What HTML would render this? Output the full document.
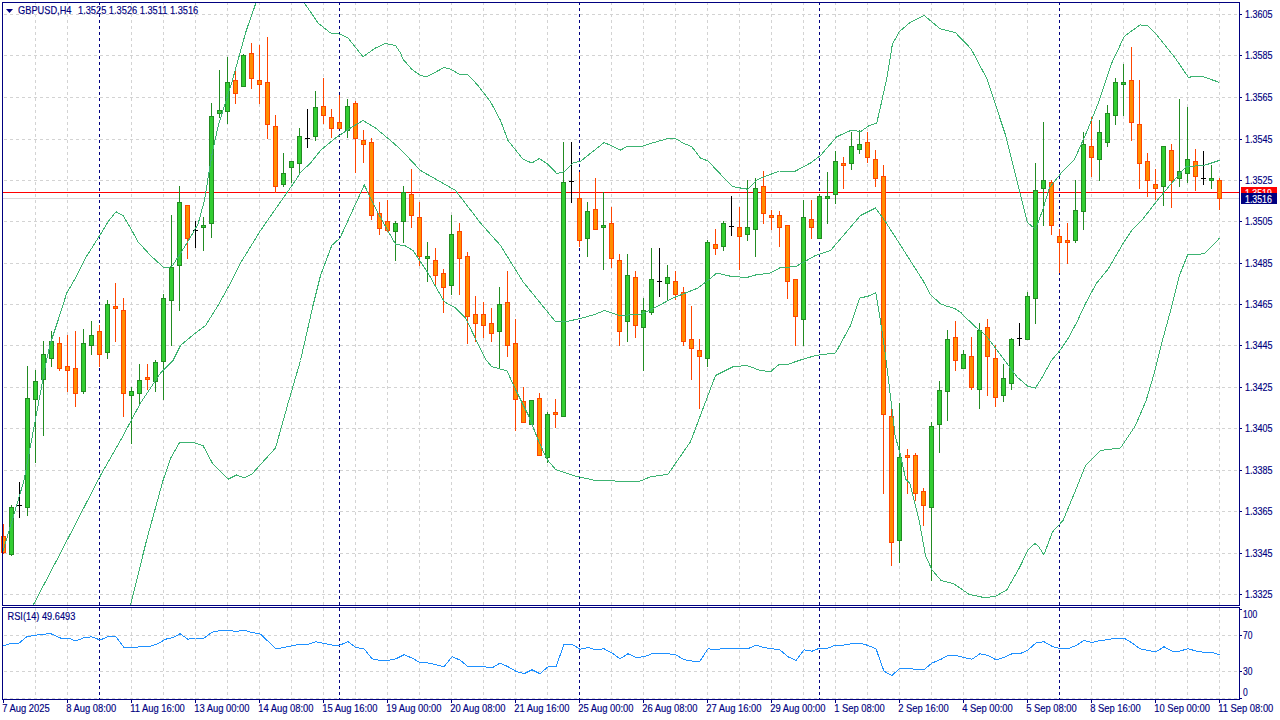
<!DOCTYPE html><html><head><meta charset="utf-8"><style>html,body{margin:0;padding:0;background:#fff;width:1280px;height:720px;overflow:hidden}svg{display:block}text{font-family:"Liberation Sans", sans-serif;fill:#000080}</style></head><body>
<svg width="1280" height="720" viewBox="0 0 1280 720">
<defs><clipPath id="cm"><rect x="3" y="3" width="1236" height="602"/></clipPath><clipPath id="cr"><rect x="3" y="608" width="1236" height="91"/></clipPath></defs>
<path d="M4 14.5H1239M4 55.5H1239M4 97.5H1239M4 139.5H1239M4 180.5H1239M4 221.5H1239M4 263.5H1239M4 304.5H1239M4 345.5H1239M4 387.5H1239M4 428.5H1239M4 470.5H1239M4 511.5H1239M4 553.5H1239M4 594.5H1239M4 635.5H1239M4 671.5H1239M4 698.5H1239" stroke="#d3d3d3" stroke-width="1" stroke-dasharray="3 3" fill="none" shape-rendering="crispEdges"/>
<path d="M35.5 2V605M35.5 608V699M67.5 2V605M67.5 608V699M131.5 2V605M131.5 608V699M163.5 2V605M163.5 608V699M195.5 2V605M195.5 608V699M227.5 2V605M227.5 608V699M259.5 2V605M259.5 608V699M291.5 2V605M291.5 608V699M323.5 2V605M323.5 608V699M355.5 2V605M355.5 608V699M387.5 2V605M387.5 608V699M419.5 2V605M419.5 608V699M451.5 2V605M451.5 608V699M483.5 2V605M483.5 608V699M515.5 2V605M515.5 608V699M547.5 2V605M547.5 608V699M611.5 2V605M611.5 608V699M643.5 2V605M643.5 608V699M675.5 2V605M675.5 608V699M707.5 2V605M707.5 608V699M739.5 2V605M739.5 608V699M771.5 2V605M771.5 608V699M803.5 2V605M803.5 608V699M835.5 2V605M835.5 608V699M867.5 2V605M867.5 608V699M899.5 2V605M899.5 608V699M931.5 2V605M931.5 608V699M963.5 2V605M963.5 608V699M995.5 2V605M995.5 608V699M1027.5 2V605M1027.5 608V699M1091.5 2V605M1091.5 608V699M1123.5 2V605M1123.5 608V699M1155.5 2V605M1155.5 608V699M1187.5 2V605M1187.5 608V699M1219.5 2V605M1219.5 608V699" stroke="#d3d3d3" stroke-width="1" stroke-dasharray="3 3" fill="none" shape-rendering="crispEdges"/>
<path d="M99.5 2V605M99.5 608V699M339.5 2V605M339.5 608V699M579.5 2V605M579.5 608V699M819.5 2V605M819.5 608V699M1059.5 2V605M1059.5 608V699" stroke="#000080" stroke-width="1" stroke-dasharray="3 3" fill="none" shape-rendering="crispEdges"/>
<rect x="3" y="192" width="1236" height="1" fill="#ff0000" shape-rendering="crispEdges"/>
<rect x="3" y="198" width="1236" height="1" fill="#d8d8d8" shape-rendering="crispEdges"/>
<g shape-rendering="crispEdges">
<rect x="3" y="524" width="1" height="30" fill="#ff4500"/>
<rect x="1" y="536" width="5" height="17" fill="#ff4500"/>
<rect x="2" y="537" width="3" height="15" fill="#ff8c00"/>
<rect x="11" y="505" width="1" height="51" fill="#228b22"/>
<rect x="9" y="507" width="5" height="48" fill="#228b22"/>
<rect x="10" y="508" width="3" height="46" fill="#32cd32"/>
<rect x="19" y="482" width="1" height="36" fill="#000"/>
<rect x="17" y="505" width="5" height="1" fill="#000"/>
<rect x="27" y="366" width="1" height="150" fill="#228b22"/>
<rect x="25" y="398" width="5" height="110" fill="#228b22"/>
<rect x="26" y="399" width="3" height="108" fill="#32cd32"/>
<rect x="35" y="370" width="1" height="93" fill="#228b22"/>
<rect x="33" y="381" width="5" height="19" fill="#228b22"/>
<rect x="34" y="382" width="3" height="17" fill="#32cd32"/>
<rect x="43" y="341" width="1" height="95" fill="#228b22"/>
<rect x="41" y="354" width="5" height="26" fill="#228b22"/>
<rect x="42" y="355" width="3" height="24" fill="#32cd32"/>
<rect x="51" y="331" width="1" height="36" fill="#228b22"/>
<rect x="49" y="341" width="5" height="18" fill="#228b22"/>
<rect x="50" y="342" width="3" height="16" fill="#32cd32"/>
<rect x="59" y="337" width="1" height="34" fill="#ff4500"/>
<rect x="57" y="343" width="5" height="26" fill="#ff4500"/>
<rect x="58" y="344" width="3" height="24" fill="#ff8c00"/>
<rect x="67" y="335" width="1" height="57" fill="#ff4500"/>
<rect x="65" y="366" width="5" height="5" fill="#ff4500"/>
<rect x="66" y="367" width="3" height="3" fill="#ff8c00"/>
<rect x="75" y="331" width="1" height="76" fill="#ff4500"/>
<rect x="73" y="368" width="5" height="26" fill="#ff4500"/>
<rect x="74" y="369" width="3" height="24" fill="#ff8c00"/>
<rect x="83" y="329" width="1" height="65" fill="#228b22"/>
<rect x="81" y="343" width="5" height="49" fill="#228b22"/>
<rect x="82" y="344" width="3" height="47" fill="#32cd32"/>
<rect x="91" y="321" width="1" height="34" fill="#228b22"/>
<rect x="89" y="335" width="5" height="11" fill="#228b22"/>
<rect x="90" y="336" width="3" height="9" fill="#32cd32"/>
<rect x="99" y="325" width="1" height="42" fill="#ff4500"/>
<rect x="97" y="331" width="5" height="24" fill="#ff4500"/>
<rect x="98" y="332" width="3" height="22" fill="#ff8c00"/>
<rect x="107" y="300" width="1" height="59" fill="#228b22"/>
<rect x="105" y="304" width="5" height="49" fill="#228b22"/>
<rect x="106" y="305" width="3" height="47" fill="#32cd32"/>
<rect x="115" y="283" width="1" height="59" fill="#ff4500"/>
<rect x="113" y="306" width="5" height="3" fill="#ff4500"/>
<rect x="114" y="307" width="3" height="1" fill="#ff8c00"/>
<rect x="123" y="298" width="1" height="119" fill="#ff4500"/>
<rect x="121" y="310" width="5" height="84" fill="#ff4500"/>
<rect x="122" y="311" width="3" height="82" fill="#ff8c00"/>
<rect x="131" y="387" width="1" height="57" fill="#228b22"/>
<rect x="129" y="391" width="5" height="5" fill="#228b22"/>
<rect x="130" y="392" width="3" height="3" fill="#32cd32"/>
<rect x="139" y="364" width="1" height="42" fill="#228b22"/>
<rect x="137" y="380" width="5" height="14" fill="#228b22"/>
<rect x="138" y="381" width="3" height="12" fill="#32cd32"/>
<rect x="147" y="364" width="1" height="26" fill="#ff4500"/>
<rect x="145" y="377" width="5" height="3" fill="#ff4500"/>
<rect x="146" y="378" width="3" height="1" fill="#ff8c00"/>
<rect x="155" y="360" width="1" height="32" fill="#228b22"/>
<rect x="153" y="362" width="5" height="20" fill="#228b22"/>
<rect x="154" y="363" width="3" height="18" fill="#32cd32"/>
<rect x="163" y="294" width="1" height="106" fill="#228b22"/>
<rect x="161" y="298" width="5" height="64" fill="#228b22"/>
<rect x="162" y="299" width="3" height="62" fill="#32cd32"/>
<rect x="171" y="215" width="1" height="131" fill="#228b22"/>
<rect x="169" y="267" width="5" height="34" fill="#228b22"/>
<rect x="170" y="268" width="3" height="32" fill="#32cd32"/>
<rect x="179" y="186" width="1" height="125" fill="#228b22"/>
<rect x="177" y="202" width="5" height="64" fill="#228b22"/>
<rect x="178" y="203" width="3" height="62" fill="#32cd32"/>
<rect x="187" y="205" width="1" height="54" fill="#ff4500"/>
<rect x="185" y="205" width="5" height="34" fill="#ff4500"/>
<rect x="186" y="206" width="3" height="32" fill="#ff8c00"/>
<rect x="195" y="221" width="1" height="27" fill="#000"/>
<rect x="193" y="230" width="5" height="1" fill="#000"/>
<rect x="203" y="217" width="1" height="34" fill="#228b22"/>
<rect x="201" y="225" width="5" height="3" fill="#228b22"/>
<rect x="202" y="226" width="3" height="1" fill="#32cd32"/>
<rect x="211" y="103" width="1" height="135" fill="#228b22"/>
<rect x="209" y="116" width="5" height="108" fill="#228b22"/>
<rect x="210" y="117" width="3" height="106" fill="#32cd32"/>
<rect x="219" y="70" width="1" height="48" fill="#228b22"/>
<rect x="217" y="110" width="5" height="4" fill="#228b22"/>
<rect x="218" y="111" width="3" height="2" fill="#32cd32"/>
<rect x="227" y="57" width="1" height="67" fill="#228b22"/>
<rect x="225" y="82" width="5" height="30" fill="#228b22"/>
<rect x="226" y="83" width="3" height="28" fill="#32cd32"/>
<rect x="235" y="70" width="1" height="34" fill="#ff4500"/>
<rect x="233" y="80" width="5" height="14" fill="#ff4500"/>
<rect x="234" y="81" width="3" height="12" fill="#ff8c00"/>
<rect x="243" y="54" width="1" height="33" fill="#228b22"/>
<rect x="241" y="55" width="5" height="32" fill="#228b22"/>
<rect x="242" y="56" width="3" height="30" fill="#32cd32"/>
<rect x="251" y="43" width="1" height="46" fill="#ff4500"/>
<rect x="249" y="53" width="5" height="26" fill="#ff4500"/>
<rect x="250" y="54" width="3" height="24" fill="#ff8c00"/>
<rect x="259" y="45" width="1" height="59" fill="#ff4500"/>
<rect x="257" y="80" width="5" height="5" fill="#ff4500"/>
<rect x="258" y="81" width="3" height="3" fill="#ff8c00"/>
<rect x="267" y="37" width="1" height="102" fill="#ff4500"/>
<rect x="265" y="82" width="5" height="43" fill="#ff4500"/>
<rect x="266" y="83" width="3" height="41" fill="#ff8c00"/>
<rect x="275" y="115" width="1" height="78" fill="#ff4500"/>
<rect x="273" y="126" width="5" height="61" fill="#ff4500"/>
<rect x="274" y="127" width="3" height="59" fill="#ff8c00"/>
<rect x="283" y="153" width="1" height="34" fill="#228b22"/>
<rect x="281" y="173" width="5" height="12" fill="#228b22"/>
<rect x="282" y="174" width="3" height="10" fill="#32cd32"/>
<rect x="291" y="161" width="1" height="22" fill="#228b22"/>
<rect x="289" y="161" width="5" height="7" fill="#228b22"/>
<rect x="290" y="162" width="3" height="5" fill="#32cd32"/>
<rect x="299" y="128" width="1" height="45" fill="#228b22"/>
<rect x="297" y="136" width="5" height="28" fill="#228b22"/>
<rect x="298" y="137" width="3" height="26" fill="#32cd32"/>
<rect x="307" y="109" width="1" height="39" fill="#000"/>
<rect x="305" y="138" width="5" height="1" fill="#000"/>
<rect x="315" y="91" width="1" height="50" fill="#228b22"/>
<rect x="313" y="107" width="5" height="30" fill="#228b22"/>
<rect x="314" y="108" width="3" height="28" fill="#32cd32"/>
<rect x="323" y="78" width="1" height="46" fill="#ff4500"/>
<rect x="321" y="106" width="5" height="10" fill="#ff4500"/>
<rect x="322" y="107" width="3" height="8" fill="#ff8c00"/>
<rect x="331" y="109" width="1" height="29" fill="#ff4500"/>
<rect x="329" y="117" width="5" height="12" fill="#ff4500"/>
<rect x="330" y="118" width="3" height="10" fill="#ff8c00"/>
<rect x="339" y="95" width="1" height="34" fill="#ff4500"/>
<rect x="337" y="122" width="5" height="7" fill="#ff4500"/>
<rect x="338" y="123" width="3" height="5" fill="#ff8c00"/>
<rect x="347" y="99" width="1" height="39" fill="#228b22"/>
<rect x="345" y="106" width="5" height="25" fill="#228b22"/>
<rect x="346" y="107" width="3" height="23" fill="#32cd32"/>
<rect x="355" y="101" width="1" height="72" fill="#ff4500"/>
<rect x="353" y="103" width="5" height="36" fill="#ff4500"/>
<rect x="354" y="104" width="3" height="34" fill="#ff8c00"/>
<rect x="363" y="130" width="1" height="33" fill="#ff4500"/>
<rect x="361" y="140" width="5" height="5" fill="#ff4500"/>
<rect x="362" y="141" width="3" height="3" fill="#ff8c00"/>
<rect x="371" y="138" width="1" height="82" fill="#ff4500"/>
<rect x="369" y="142" width="5" height="74" fill="#ff4500"/>
<rect x="370" y="143" width="3" height="72" fill="#ff8c00"/>
<rect x="379" y="202" width="1" height="33" fill="#ff4500"/>
<rect x="377" y="213" width="5" height="16" fill="#ff4500"/>
<rect x="378" y="214" width="3" height="14" fill="#ff8c00"/>
<rect x="387" y="200" width="1" height="32" fill="#ff4500"/>
<rect x="385" y="221" width="5" height="10" fill="#ff4500"/>
<rect x="386" y="222" width="3" height="8" fill="#ff8c00"/>
<rect x="395" y="221" width="1" height="40" fill="#228b22"/>
<rect x="393" y="223" width="5" height="9" fill="#228b22"/>
<rect x="394" y="224" width="3" height="7" fill="#32cd32"/>
<rect x="403" y="186" width="1" height="57" fill="#228b22"/>
<rect x="401" y="192" width="5" height="30" fill="#228b22"/>
<rect x="402" y="193" width="3" height="28" fill="#32cd32"/>
<rect x="411" y="169" width="1" height="59" fill="#ff4500"/>
<rect x="409" y="194" width="5" height="22" fill="#ff4500"/>
<rect x="410" y="195" width="3" height="20" fill="#ff8c00"/>
<rect x="419" y="202" width="1" height="64" fill="#ff4500"/>
<rect x="417" y="217" width="5" height="40" fill="#ff4500"/>
<rect x="418" y="218" width="3" height="38" fill="#ff8c00"/>
<rect x="427" y="242" width="1" height="40" fill="#228b22"/>
<rect x="425" y="256" width="5" height="3" fill="#228b22"/>
<rect x="426" y="257" width="3" height="1" fill="#32cd32"/>
<rect x="435" y="248" width="1" height="38" fill="#ff4500"/>
<rect x="433" y="260" width="5" height="16" fill="#ff4500"/>
<rect x="434" y="261" width="3" height="14" fill="#ff8c00"/>
<rect x="443" y="269" width="1" height="44" fill="#ff4500"/>
<rect x="441" y="273" width="5" height="15" fill="#ff4500"/>
<rect x="442" y="274" width="3" height="13" fill="#ff8c00"/>
<rect x="451" y="215" width="1" height="80" fill="#228b22"/>
<rect x="449" y="234" width="5" height="52" fill="#228b22"/>
<rect x="450" y="235" width="3" height="50" fill="#32cd32"/>
<rect x="459" y="223" width="1" height="72" fill="#ff4500"/>
<rect x="457" y="231" width="5" height="28" fill="#ff4500"/>
<rect x="458" y="232" width="3" height="26" fill="#ff8c00"/>
<rect x="467" y="252" width="1" height="92" fill="#ff4500"/>
<rect x="465" y="256" width="5" height="61" fill="#ff4500"/>
<rect x="466" y="257" width="3" height="59" fill="#ff8c00"/>
<rect x="475" y="296" width="1" height="46" fill="#ff4500"/>
<rect x="473" y="314" width="5" height="10" fill="#ff4500"/>
<rect x="474" y="315" width="3" height="8" fill="#ff8c00"/>
<rect x="483" y="302" width="1" height="36" fill="#ff4500"/>
<rect x="481" y="314" width="5" height="12" fill="#ff4500"/>
<rect x="482" y="315" width="3" height="10" fill="#ff8c00"/>
<rect x="491" y="308" width="1" height="34" fill="#ff4500"/>
<rect x="489" y="323" width="5" height="11" fill="#ff4500"/>
<rect x="490" y="324" width="3" height="9" fill="#ff8c00"/>
<rect x="499" y="287" width="1" height="81" fill="#228b22"/>
<rect x="497" y="304" width="5" height="28" fill="#228b22"/>
<rect x="498" y="305" width="3" height="26" fill="#32cd32"/>
<rect x="507" y="271" width="1" height="86" fill="#ff4500"/>
<rect x="505" y="302" width="5" height="44" fill="#ff4500"/>
<rect x="506" y="303" width="3" height="42" fill="#ff8c00"/>
<rect x="515" y="319" width="1" height="112" fill="#ff4500"/>
<rect x="513" y="343" width="5" height="57" fill="#ff4500"/>
<rect x="514" y="344" width="3" height="55" fill="#ff8c00"/>
<rect x="523" y="387" width="1" height="36" fill="#ff4500"/>
<rect x="521" y="401" width="5" height="22" fill="#ff4500"/>
<rect x="522" y="402" width="3" height="20" fill="#ff8c00"/>
<rect x="531" y="400" width="1" height="25" fill="#228b22"/>
<rect x="529" y="400" width="5" height="25" fill="#228b22"/>
<rect x="530" y="401" width="3" height="23" fill="#32cd32"/>
<rect x="539" y="393" width="1" height="63" fill="#ff4500"/>
<rect x="537" y="398" width="5" height="58" fill="#ff4500"/>
<rect x="538" y="399" width="3" height="56" fill="#ff8c00"/>
<rect x="547" y="412" width="1" height="51" fill="#228b22"/>
<rect x="545" y="414" width="5" height="44" fill="#228b22"/>
<rect x="546" y="415" width="3" height="42" fill="#32cd32"/>
<rect x="555" y="399" width="1" height="29" fill="#ff4500"/>
<rect x="553" y="412" width="5" height="3" fill="#ff4500"/>
<rect x="554" y="413" width="3" height="1" fill="#ff8c00"/>
<rect x="563" y="142" width="1" height="275" fill="#228b22"/>
<rect x="561" y="182" width="5" height="235" fill="#228b22"/>
<rect x="562" y="183" width="3" height="233" fill="#32cd32"/>
<rect x="571" y="142" width="1" height="61" fill="#000"/>
<rect x="569" y="181" width="5" height="1" fill="#000"/>
<rect x="579" y="172" width="1" height="75" fill="#ff4500"/>
<rect x="577" y="198" width="5" height="43" fill="#ff4500"/>
<rect x="578" y="199" width="3" height="41" fill="#ff8c00"/>
<rect x="587" y="202" width="1" height="55" fill="#228b22"/>
<rect x="585" y="211" width="5" height="28" fill="#228b22"/>
<rect x="586" y="212" width="3" height="26" fill="#32cd32"/>
<rect x="595" y="178" width="1" height="52" fill="#ff4500"/>
<rect x="593" y="209" width="5" height="21" fill="#ff4500"/>
<rect x="594" y="210" width="3" height="19" fill="#ff8c00"/>
<rect x="603" y="192" width="1" height="78" fill="#228b22"/>
<rect x="601" y="225" width="5" height="3" fill="#228b22"/>
<rect x="602" y="226" width="3" height="1" fill="#32cd32"/>
<rect x="611" y="207" width="1" height="61" fill="#ff4500"/>
<rect x="609" y="223" width="5" height="36" fill="#ff4500"/>
<rect x="610" y="224" width="3" height="34" fill="#ff8c00"/>
<rect x="619" y="254" width="1" height="92" fill="#ff4500"/>
<rect x="617" y="260" width="5" height="72" fill="#ff4500"/>
<rect x="618" y="261" width="3" height="70" fill="#ff8c00"/>
<rect x="627" y="254" width="1" height="88" fill="#228b22"/>
<rect x="625" y="275" width="5" height="47" fill="#228b22"/>
<rect x="626" y="276" width="3" height="45" fill="#32cd32"/>
<rect x="635" y="271" width="1" height="67" fill="#ff4500"/>
<rect x="633" y="277" width="5" height="49" fill="#ff4500"/>
<rect x="634" y="278" width="3" height="47" fill="#ff8c00"/>
<rect x="643" y="298" width="1" height="73" fill="#228b22"/>
<rect x="641" y="310" width="5" height="18" fill="#228b22"/>
<rect x="642" y="311" width="3" height="16" fill="#32cd32"/>
<rect x="651" y="248" width="1" height="67" fill="#228b22"/>
<rect x="649" y="279" width="5" height="34" fill="#228b22"/>
<rect x="650" y="280" width="3" height="32" fill="#32cd32"/>
<rect x="659" y="248" width="1" height="49" fill="#000"/>
<rect x="657" y="281" width="5" height="1" fill="#000"/>
<rect x="667" y="265" width="1" height="36" fill="#228b22"/>
<rect x="665" y="277" width="5" height="7" fill="#228b22"/>
<rect x="666" y="278" width="3" height="5" fill="#32cd32"/>
<rect x="675" y="271" width="1" height="29" fill="#ff4500"/>
<rect x="673" y="281" width="5" height="14" fill="#ff4500"/>
<rect x="674" y="282" width="3" height="12" fill="#ff8c00"/>
<rect x="683" y="287" width="1" height="59" fill="#ff4500"/>
<rect x="681" y="292" width="5" height="50" fill="#ff4500"/>
<rect x="682" y="293" width="3" height="48" fill="#ff8c00"/>
<rect x="691" y="306" width="1" height="74" fill="#ff4500"/>
<rect x="689" y="339" width="5" height="10" fill="#ff4500"/>
<rect x="690" y="340" width="3" height="8" fill="#ff8c00"/>
<rect x="699" y="339" width="1" height="70" fill="#ff4500"/>
<rect x="697" y="350" width="5" height="7" fill="#ff4500"/>
<rect x="698" y="351" width="3" height="5" fill="#ff8c00"/>
<rect x="707" y="240" width="1" height="127" fill="#228b22"/>
<rect x="705" y="242" width="5" height="117" fill="#228b22"/>
<rect x="706" y="243" width="3" height="115" fill="#32cd32"/>
<rect x="715" y="229" width="1" height="26" fill="#ff4500"/>
<rect x="713" y="244" width="5" height="5" fill="#ff4500"/>
<rect x="714" y="245" width="3" height="3" fill="#ff8c00"/>
<rect x="723" y="221" width="1" height="30" fill="#228b22"/>
<rect x="721" y="223" width="5" height="24" fill="#228b22"/>
<rect x="722" y="224" width="3" height="22" fill="#32cd32"/>
<rect x="731" y="196" width="1" height="40" fill="#000"/>
<rect x="729" y="226" width="5" height="1" fill="#000"/>
<rect x="739" y="207" width="1" height="63" fill="#ff4500"/>
<rect x="737" y="227" width="5" height="10" fill="#ff4500"/>
<rect x="738" y="228" width="3" height="8" fill="#ff8c00"/>
<rect x="747" y="180" width="1" height="61" fill="#228b22"/>
<rect x="745" y="227" width="5" height="8" fill="#228b22"/>
<rect x="746" y="228" width="3" height="6" fill="#32cd32"/>
<rect x="755" y="178" width="1" height="79" fill="#228b22"/>
<rect x="753" y="188" width="5" height="42" fill="#228b22"/>
<rect x="754" y="189" width="3" height="40" fill="#32cd32"/>
<rect x="763" y="171" width="1" height="53" fill="#ff4500"/>
<rect x="761" y="186" width="5" height="28" fill="#ff4500"/>
<rect x="762" y="187" width="3" height="26" fill="#ff8c00"/>
<rect x="771" y="210" width="1" height="20" fill="#ff4500"/>
<rect x="769" y="215" width="5" height="3" fill="#ff4500"/>
<rect x="770" y="216" width="3" height="1" fill="#ff8c00"/>
<rect x="779" y="211" width="1" height="36" fill="#ff4500"/>
<rect x="777" y="215" width="5" height="13" fill="#ff4500"/>
<rect x="778" y="216" width="3" height="11" fill="#ff8c00"/>
<rect x="787" y="225" width="1" height="74" fill="#ff4500"/>
<rect x="785" y="225" width="5" height="57" fill="#ff4500"/>
<rect x="786" y="226" width="3" height="55" fill="#ff8c00"/>
<rect x="795" y="279" width="1" height="67" fill="#ff4500"/>
<rect x="793" y="279" width="5" height="38" fill="#ff4500"/>
<rect x="794" y="280" width="3" height="36" fill="#ff8c00"/>
<rect x="803" y="200" width="1" height="146" fill="#228b22"/>
<rect x="801" y="217" width="5" height="103" fill="#228b22"/>
<rect x="802" y="218" width="3" height="101" fill="#32cd32"/>
<rect x="811" y="200" width="1" height="39" fill="#ff4500"/>
<rect x="809" y="219" width="5" height="9" fill="#ff4500"/>
<rect x="810" y="220" width="3" height="7" fill="#ff8c00"/>
<rect x="819" y="194" width="1" height="45" fill="#228b22"/>
<rect x="817" y="196" width="5" height="43" fill="#228b22"/>
<rect x="818" y="197" width="3" height="41" fill="#32cd32"/>
<rect x="827" y="172" width="1" height="52" fill="#228b22"/>
<rect x="825" y="196" width="5" height="3" fill="#228b22"/>
<rect x="826" y="197" width="3" height="1" fill="#32cd32"/>
<rect x="835" y="151" width="1" height="53" fill="#228b22"/>
<rect x="833" y="161" width="5" height="34" fill="#228b22"/>
<rect x="834" y="162" width="3" height="32" fill="#32cd32"/>
<rect x="843" y="157" width="1" height="32" fill="#ff4500"/>
<rect x="841" y="163" width="5" height="3" fill="#ff4500"/>
<rect x="842" y="164" width="3" height="1" fill="#ff8c00"/>
<rect x="851" y="132" width="1" height="38" fill="#228b22"/>
<rect x="849" y="146" width="5" height="18" fill="#228b22"/>
<rect x="850" y="147" width="3" height="16" fill="#32cd32"/>
<rect x="859" y="130" width="1" height="24" fill="#228b22"/>
<rect x="857" y="144" width="5" height="6" fill="#228b22"/>
<rect x="858" y="145" width="3" height="4" fill="#32cd32"/>
<rect x="867" y="132" width="1" height="31" fill="#ff4500"/>
<rect x="865" y="142" width="5" height="16" fill="#ff4500"/>
<rect x="866" y="143" width="3" height="14" fill="#ff8c00"/>
<rect x="875" y="150" width="1" height="37" fill="#ff4500"/>
<rect x="873" y="159" width="5" height="20" fill="#ff4500"/>
<rect x="874" y="160" width="3" height="18" fill="#ff8c00"/>
<rect x="883" y="165" width="1" height="329" fill="#ff4500"/>
<rect x="881" y="176" width="5" height="239" fill="#ff4500"/>
<rect x="882" y="177" width="3" height="237" fill="#ff8c00"/>
<rect x="891" y="406" width="1" height="160" fill="#ff4500"/>
<rect x="889" y="416" width="5" height="127" fill="#ff4500"/>
<rect x="890" y="417" width="3" height="125" fill="#ff8c00"/>
<rect x="899" y="403" width="1" height="160" fill="#228b22"/>
<rect x="897" y="457" width="5" height="84" fill="#228b22"/>
<rect x="898" y="458" width="3" height="82" fill="#32cd32"/>
<rect x="907" y="449" width="1" height="45" fill="#ff4500"/>
<rect x="905" y="455" width="5" height="3" fill="#ff4500"/>
<rect x="906" y="456" width="3" height="1" fill="#ff8c00"/>
<rect x="915" y="453" width="1" height="48" fill="#ff4500"/>
<rect x="913" y="455" width="5" height="39" fill="#ff4500"/>
<rect x="914" y="456" width="3" height="37" fill="#ff8c00"/>
<rect x="923" y="488" width="1" height="38" fill="#ff4500"/>
<rect x="921" y="491" width="5" height="15" fill="#ff4500"/>
<rect x="922" y="492" width="3" height="13" fill="#ff8c00"/>
<rect x="931" y="422" width="1" height="159" fill="#228b22"/>
<rect x="929" y="426" width="5" height="82" fill="#228b22"/>
<rect x="930" y="427" width="3" height="80" fill="#32cd32"/>
<rect x="939" y="381" width="1" height="72" fill="#228b22"/>
<rect x="937" y="390" width="5" height="35" fill="#228b22"/>
<rect x="938" y="391" width="3" height="33" fill="#32cd32"/>
<rect x="947" y="330" width="1" height="91" fill="#228b22"/>
<rect x="945" y="339" width="5" height="53" fill="#228b22"/>
<rect x="946" y="340" width="3" height="51" fill="#32cd32"/>
<rect x="955" y="321" width="1" height="50" fill="#ff4500"/>
<rect x="953" y="337" width="5" height="24" fill="#ff4500"/>
<rect x="954" y="338" width="3" height="22" fill="#ff8c00"/>
<rect x="963" y="350" width="1" height="19" fill="#228b22"/>
<rect x="961" y="354" width="5" height="15" fill="#228b22"/>
<rect x="962" y="355" width="3" height="13" fill="#32cd32"/>
<rect x="971" y="337" width="1" height="53" fill="#ff4500"/>
<rect x="969" y="356" width="5" height="32" fill="#ff4500"/>
<rect x="970" y="357" width="3" height="30" fill="#ff8c00"/>
<rect x="979" y="323" width="1" height="86" fill="#228b22"/>
<rect x="977" y="330" width="5" height="60" fill="#228b22"/>
<rect x="978" y="331" width="3" height="58" fill="#32cd32"/>
<rect x="987" y="319" width="1" height="77" fill="#ff4500"/>
<rect x="985" y="327" width="5" height="30" fill="#ff4500"/>
<rect x="986" y="328" width="3" height="28" fill="#ff8c00"/>
<rect x="995" y="345" width="1" height="62" fill="#ff4500"/>
<rect x="993" y="358" width="5" height="40" fill="#ff4500"/>
<rect x="994" y="359" width="3" height="38" fill="#ff8c00"/>
<rect x="1003" y="364" width="1" height="38" fill="#228b22"/>
<rect x="1001" y="378" width="5" height="18" fill="#228b22"/>
<rect x="1002" y="379" width="3" height="16" fill="#32cd32"/>
<rect x="1011" y="338" width="1" height="52" fill="#228b22"/>
<rect x="1009" y="339" width="5" height="45" fill="#228b22"/>
<rect x="1010" y="340" width="3" height="43" fill="#32cd32"/>
<rect x="1019" y="323" width="1" height="23" fill="#000"/>
<rect x="1017" y="338" width="5" height="1" fill="#000"/>
<rect x="1027" y="292" width="1" height="48" fill="#228b22"/>
<rect x="1025" y="296" width="5" height="44" fill="#228b22"/>
<rect x="1026" y="297" width="3" height="42" fill="#32cd32"/>
<rect x="1035" y="163" width="1" height="161" fill="#228b22"/>
<rect x="1033" y="190" width="5" height="109" fill="#228b22"/>
<rect x="1034" y="191" width="3" height="107" fill="#32cd32"/>
<rect x="1043" y="122" width="1" height="104" fill="#228b22"/>
<rect x="1041" y="180" width="5" height="9" fill="#228b22"/>
<rect x="1042" y="181" width="3" height="7" fill="#32cd32"/>
<rect x="1051" y="180" width="1" height="55" fill="#ff4500"/>
<rect x="1049" y="182" width="5" height="44" fill="#ff4500"/>
<rect x="1050" y="183" width="3" height="42" fill="#ff8c00"/>
<rect x="1059" y="229" width="1" height="44" fill="#ff4500"/>
<rect x="1057" y="236" width="5" height="7" fill="#ff4500"/>
<rect x="1058" y="237" width="3" height="5" fill="#ff8c00"/>
<rect x="1067" y="223" width="1" height="41" fill="#ff4500"/>
<rect x="1065" y="240" width="5" height="3" fill="#ff4500"/>
<rect x="1066" y="241" width="3" height="1" fill="#ff8c00"/>
<rect x="1075" y="180" width="1" height="63" fill="#228b22"/>
<rect x="1073" y="210" width="5" height="31" fill="#228b22"/>
<rect x="1074" y="211" width="3" height="29" fill="#32cd32"/>
<rect x="1083" y="132" width="1" height="98" fill="#228b22"/>
<rect x="1081" y="144" width="5" height="68" fill="#228b22"/>
<rect x="1082" y="145" width="3" height="66" fill="#32cd32"/>
<rect x="1091" y="117" width="1" height="60" fill="#ff4500"/>
<rect x="1089" y="146" width="5" height="12" fill="#ff4500"/>
<rect x="1090" y="147" width="3" height="10" fill="#ff8c00"/>
<rect x="1099" y="120" width="1" height="61" fill="#228b22"/>
<rect x="1097" y="132" width="5" height="28" fill="#228b22"/>
<rect x="1098" y="133" width="3" height="26" fill="#32cd32"/>
<rect x="1107" y="105" width="1" height="42" fill="#228b22"/>
<rect x="1105" y="113" width="5" height="30" fill="#228b22"/>
<rect x="1106" y="114" width="3" height="28" fill="#32cd32"/>
<rect x="1115" y="78" width="1" height="47" fill="#228b22"/>
<rect x="1113" y="82" width="5" height="34" fill="#228b22"/>
<rect x="1114" y="83" width="3" height="32" fill="#32cd32"/>
<rect x="1123" y="64" width="1" height="52" fill="#228b22"/>
<rect x="1121" y="82" width="5" height="3" fill="#228b22"/>
<rect x="1122" y="83" width="3" height="1" fill="#32cd32"/>
<rect x="1131" y="47" width="1" height="94" fill="#ff4500"/>
<rect x="1129" y="80" width="5" height="43" fill="#ff4500"/>
<rect x="1130" y="81" width="3" height="41" fill="#ff8c00"/>
<rect x="1139" y="80" width="1" height="109" fill="#ff4500"/>
<rect x="1137" y="124" width="5" height="40" fill="#ff4500"/>
<rect x="1138" y="125" width="3" height="38" fill="#ff8c00"/>
<rect x="1147" y="153" width="1" height="44" fill="#ff4500"/>
<rect x="1145" y="161" width="5" height="20" fill="#ff4500"/>
<rect x="1146" y="162" width="3" height="18" fill="#ff8c00"/>
<rect x="1155" y="169" width="1" height="31" fill="#ff4500"/>
<rect x="1153" y="184" width="5" height="5" fill="#ff4500"/>
<rect x="1154" y="185" width="3" height="3" fill="#ff8c00"/>
<rect x="1163" y="146" width="1" height="60" fill="#228b22"/>
<rect x="1161" y="146" width="5" height="41" fill="#228b22"/>
<rect x="1162" y="147" width="3" height="39" fill="#32cd32"/>
<rect x="1171" y="144" width="1" height="64" fill="#ff4500"/>
<rect x="1169" y="150" width="5" height="31" fill="#ff4500"/>
<rect x="1170" y="151" width="3" height="29" fill="#ff8c00"/>
<rect x="1179" y="99" width="1" height="88" fill="#228b22"/>
<rect x="1177" y="171" width="5" height="8" fill="#228b22"/>
<rect x="1178" y="172" width="3" height="6" fill="#32cd32"/>
<rect x="1187" y="107" width="1" height="76" fill="#228b22"/>
<rect x="1185" y="159" width="5" height="15" fill="#228b22"/>
<rect x="1186" y="160" width="3" height="13" fill="#32cd32"/>
<rect x="1195" y="149" width="1" height="42" fill="#ff4500"/>
<rect x="1193" y="161" width="5" height="16" fill="#ff4500"/>
<rect x="1194" y="162" width="3" height="14" fill="#ff8c00"/>
<rect x="1203" y="151" width="1" height="34" fill="#000"/>
<rect x="1201" y="178" width="5" height="1" fill="#000"/>
<rect x="1211" y="165" width="1" height="24" fill="#228b22"/>
<rect x="1209" y="178" width="5" height="3" fill="#228b22"/>
<rect x="1210" y="179" width="3" height="1" fill="#32cd32"/>
<rect x="1219" y="178" width="1" height="32" fill="#ff4500"/>
<rect x="1217" y="180" width="5" height="19" fill="#ff4500"/>
<rect x="1218" y="181" width="3" height="17" fill="#ff8c00"/>
</g>
<g>
<path d="M3.20 550.50 L24.00 480.50 L46.50 360.50 L50.50 343.00 L58.00 320.50 L66.75 293.00 L75.50 278.00 L85.50 258.00 L100.50 234.25 L108.00 221.75 L116.00 211.75 L123.00 215.50 L130.50 228.00 L138.00 241.75 L150.50 255.50 L164.25 268.00 L171.75 266.75 L185.50 245.50 L198.00 224.25 L204.40 200.50 L208.50 175.50 L212.70 150.50 L218.30 125.50 L225.20 103.30 L232.20 81.10 L239.10 56.10 L246.10 31.10 L255.80 3.30 L262.50 -19.50 L300.50 -19.50 L304.25 3.00 L310.50 11.75 L318.00 23.00 L330.50 33.00 L340.50 34.25 L348.00 38.00 L363.00 56.75 L375.50 48.00 L385.50 43.50 L395.50 45.50 L400.50 53.00 L403.00 59.25 L411.75 69.25 L420.50 75.50 L426.75 76.75 L444.25 67.50 L450.50 69.25 L460.50 74.75 L468.00 74.75 L478.00 85.50 L490.50 101.75 L500.50 120.50 L508.00 140.50 L523.00 159.25 L531.75 163.00 L539.25 158.50 L548.00 164.25 L556.75 173.50 L564.25 171.75 L573.00 163.00 L580.50 161.25 L604.25 142.50 L620.50 150.00 L626.75 146.75 L640.50 146.75 L650.50 143.50 L668.00 138.50 L675.50 138.50 L683.00 143.00 L691.75 146.75 L700.50 158.00 L708.00 161.00 L725.50 179.50 L733.00 186.75 L748.00 189.25 L758.00 179.25 L779.25 171.00 L794.25 171.75 L810.50 163.00 L820.50 155.50 L836.75 136.75 L851.75 130.00 L860.50 131.75 L869.25 125.50 L876.75 123.00 L880.50 106.75 L886.75 78.50 L892.40 44.25 L899.25 31.75 L910.20 22.40 L924.25 15.50 L939.90 28.60 L955.50 32.70 L971.10 48.90 L986.75 78.50 L1005.50 134.90 L1018.00 184.90 L1027.40 222.40 L1035.50 229.25 L1043.00 209.25 L1049.25 188.00 L1061.75 172.40 L1074.25 159.90 L1086.75 131.75 L1099.25 100.50 L1111.75 63.00 L1124.25 36.50 L1139.90 24.90 L1147.50 25.50 L1155.50 33.30 L1174.25 56.75 L1188.30 77.10 L1202.40 76.50 L1219.50 82.40" stroke="#3cb371" stroke-width="1" fill="none" shape-rendering="crispEdges" clip-path="url(#cm)"/>
<path d="M33.00 605.50 L60.50 553.00 L100.50 475.50 L120.50 440.50 L140.50 403.00 L160.50 373.00 L173.00 360.50 L180.50 345.50 L195.50 333.00 L205.50 325.50 L218.00 305.50 L230.50 283.00 L240.50 263.00 L260.50 230.50 L295.50 180.50 L300.50 172.50 L310.50 163.00 L320.50 150.50 L335.50 138.00 L350.50 128.00 L363.00 120.50 L375.50 128.00 L390.50 140.50 L400.50 149.25 L420.50 170.50 L438.00 180.50 L455.50 190.50 L480.50 223.00 L500.50 245.50 L523.00 281.75 L555.50 321.75 L565.50 321.75 L580.50 318.50 L595.50 314.25 L604.25 310.50 L619.25 315.50 L640.50 314.25 L650.50 310.00 L673.00 298.00 L698.00 288.00 L708.00 280.50 L716.75 273.00 L730.50 276.25 L746.75 277.50 L755.50 275.00 L770.50 273.00 L780.50 267.50 L795.50 266.75 L815.50 255.50 L830.50 250.50 L860.50 215.50 L875.50 208.00 L885.50 221.75 L905.50 253.00 L923.00 280.50 L930.50 294.70 L940.50 303.80 L947.20 306.30 L954.70 308.50 L960.50 312.20 L968.80 320.50 L975.50 327.20 L980.50 330.50 L987.20 337.20 L997.20 350.50 L1007.20 363.80 L1017.20 377.20 L1028.00 386.30 L1035.50 388.00 L1042.20 377.20 L1050.50 362.20 L1051.60 360.20 L1059.90 350.50 L1068.30 338.00 L1076.60 322.70 L1084.90 304.70 L1096.10 283.80 L1108.50 268.50 L1123.80 242.20 L1132.20 229.70 L1143.30 218.50 L1157.20 200.50 L1170.50 184.50 L1186.10 166.50 L1203.90 165.50 L1219.90 160.25" stroke="#3cb371" stroke-width="1" fill="none" shape-rendering="crispEdges" clip-path="url(#cm)"/>
<path d="M130.50 605.10 L146.50 540.50 L163.00 480.50 L170.50 458.50 L179.25 443.00 L193.00 442.50 L203.00 445.50 L213.00 464.25 L228.00 479.25 L236.50 475.00 L244.25 478.00 L251.75 474.25 L263.00 461.75 L275.50 448.00 L288.00 403.50 L300.50 360.50 L313.00 305.50 L320.50 275.50 L331.75 245.50 L340.00 238.00 L364.25 185.00 L378.00 213.00 L395.50 244.25 L405.50 246.00 L413.00 250.50 L428.00 273.00 L444.25 301.75 L455.50 308.00 L465.50 318.00 L485.50 359.25 L491.60 366.60 L506.90 370.80 L516.50 391.50 L527.70 413.80 L538.80 441.50 L547.20 459.70 L555.50 469.40 L573.00 475.50 L595.50 480.50 L608.00 480.00 L620.50 481.75 L640.50 481.00 L650.50 476.75 L668.00 474.25 L690.50 441.75 L715.50 375.50 L733.00 366.75 L746.75 365.50 L760.50 370.50 L770.50 371.75 L779.25 364.25 L788.00 364.25 L800.50 360.00 L815.50 355.50 L835.50 353.00 L850.50 325.50 L859.70 298.00 L868.00 296.30 L875.80 292.50 L881.30 326.30 L885.50 355.50 L888.00 375.50 L895.10 435.50 L900.00 453.50 L905.80 479.50 L909.90 483.50 L919.25 521.10 L925.50 555.50 L931.75 569.50 L941.10 580.50 L953.50 583.50 L969.25 594.50 L984.90 597.70 L995.80 596.10 L1006.75 589.90 L1019.25 568.00 L1028.50 549.25 L1034.90 543.50 L1038.50 546.50 L1043.90 554.70 L1052.50 531.90 L1063.00 520.50 L1075.50 490.50 L1085.50 465.50 L1100.50 450.50 L1120.50 448.00 L1135.50 425.50 L1146.10 400.50 L1154.40 372.70 L1162.70 339.40 L1171.10 308.80 L1179.40 275.50 L1187.70 254.70 L1204.40 253.80 L1219.70 238.00" stroke="#3cb371" stroke-width="1" fill="none" shape-rendering="crispEdges" clip-path="url(#cm)"/>
</g>
<path d="M3.00 646.00 L10.50 643.50 L19.25 643.00 L26.75 636.75 L36.75 635.00 L50.50 633.50 L60.50 638.00 L68.00 638.00 L76.00 641.00 L83.00 638.00 L91.75 636.75 L100.00 640.00 L108.00 636.75 L116.00 636.75 L124.00 647.50 L133.00 647.50 L140.50 646.75 L150.50 646.25 L156.75 644.25 L165.50 639.25 L173.00 637.50 L180.00 633.75 L188.00 639.25 L195.50 638.00 L204.00 638.00 L212.00 632.25 L220.00 630.50 L228.00 630.00 L236.00 631.75 L244.00 630.00 L252.00 632.50 L260.00 633.75 L276.00 648.75 L284.00 647.50 L300.00 644.25 L308.00 644.25 L316.00 641.75 L331.75 645.00 L340.00 645.00 L348.00 641.75 L356.00 647.50 L364.00 648.75 L372.00 658.75 L380.00 660.50 L388.00 660.50 L396.00 658.75 L404.00 654.75 L412.00 658.00 L420.00 662.50 L428.00 663.00 L436.00 664.75 L444.00 666.75 L452.00 656.75 L460.00 660.00 L468.00 666.75 L476.00 666.75 L484.00 666.75 L492.00 668.00 L500.00 663.00 L508.00 666.75 L516.00 671.25 L524.00 673.75 L532.00 669.75 L540.00 673.75 L548.00 666.75 L556.00 666.75 L564.00 644.25 L572.00 644.25 L580.00 649.25 L588.00 647.50 L596.00 649.75 L604.00 648.75 L612.00 653.00 L620.00 658.75 L628.00 653.75 L636.00 657.50 L644.00 656.75 L652.00 653.75 L660.00 653.75 L668.00 653.75 L676.00 655.00 L684.00 659.75 L692.00 661.00 L700.00 661.00 L708.00 648.75 L716.00 650.00 L724.00 648.00 L732.00 648.00 L740.00 648.75 L748.00 648.75 L756.00 645.00 L764.00 647.50 L772.00 648.75 L780.00 650.00 L788.00 656.75 L796.00 660.50 L804.00 649.75 L812.00 651.25 L820.00 648.00 L828.00 648.00 L836.00 645.00 L844.00 645.00 L852.00 643.75 L860.00 643.00 L868.00 645.50 L876.00 648.75 L884.00 671.25 L892.00 675.50 L900.00 668.00 L908.00 668.00 L916.00 669.75 L924.00 669.75 L932.00 663.00 L940.00 659.75 L948.00 655.50 L956.00 655.50 L964.00 657.50 L972.00 659.25 L980.00 653.75 L988.00 655.50 L996.00 659.75 L1004.00 657.50 L1012.00 653.75 L1020.00 653.75 L1028.00 650.00 L1036.00 643.00 L1044.00 641.75 L1052.00 646.25 L1060.00 648.75 L1068.00 648.75 L1076.00 645.50 L1084.00 640.50 L1092.00 642.50 L1100.00 640.50 L1108.00 639.75 L1116.00 638.00 L1124.00 638.00 L1132.00 643.00 L1140.00 648.75 L1148.00 650.50 L1156.00 651.75 L1164.00 646.75 L1172.00 651.00 L1180.00 651.00 L1188.00 648.75 L1196.00 651.00 L1204.00 652.25 L1212.00 652.25 L1220.00 655.00" stroke="#1e90ff" stroke-width="1" fill="none" shape-rendering="crispEdges" clip-path="url(#cr)"/>
<g fill="none" stroke="#000080" stroke-width="1" shape-rendering="crispEdges">
<rect x="2.5" y="2.5" width="1237" height="603"/>
<rect x="2.5" y="607.5" width="1237" height="92"/>
</g>
<path d="M1240 14.5H1242M1240 55.5H1242M1240 97.5H1242M1240 139.5H1242M1240 180.5H1242M1240 221.5H1242M1240 263.5H1242M1240 304.5H1242M1240 345.5H1242M1240 387.5H1242M1240 428.5H1242M1240 470.5H1242M1240 511.5H1242M1240 553.5H1242M1240 594.5H1242M1240 609.5H1242M1240 635.5H1242M1240 671.5H1242M1240 698.5H1242M3.5 700V703M67.5 700V703M131.5 700V703M195.5 700V703M259.5 700V703M323.5 700V703M387.5 700V703M451.5 700V703M515.5 700V703M579.5 700V703M643.5 700V703M707.5 700V703M771.5 700V703M835.5 700V703M899.5 700V703M963.5 700V703M1027.5 700V703M1091.5 700V703M1155.5 700V703M1219.5 700V703" stroke="#000080" stroke-width="1" fill="none" shape-rendering="crispEdges"/>
<text transform="translate(1245.00 18.00) scale(0.900 1)" font-size="10" stroke="#000080" stroke-width="0.15">1.3605</text>
<text transform="translate(1245.00 59.00) scale(0.900 1)" font-size="10" stroke="#000080" stroke-width="0.15">1.3585</text>
<text transform="translate(1245.00 101.00) scale(0.900 1)" font-size="10" stroke="#000080" stroke-width="0.15">1.3565</text>
<text transform="translate(1245.00 143.00) scale(0.900 1)" font-size="10" stroke="#000080" stroke-width="0.15">1.3545</text>
<text transform="translate(1245.00 184.00) scale(0.900 1)" font-size="10" stroke="#000080" stroke-width="0.15">1.3525</text>
<text transform="translate(1245.00 225.00) scale(0.900 1)" font-size="10" stroke="#000080" stroke-width="0.15">1.3505</text>
<text transform="translate(1245.00 267.00) scale(0.900 1)" font-size="10" stroke="#000080" stroke-width="0.15">1.3485</text>
<text transform="translate(1245.00 308.00) scale(0.900 1)" font-size="10" stroke="#000080" stroke-width="0.15">1.3465</text>
<text transform="translate(1245.00 349.00) scale(0.900 1)" font-size="10" stroke="#000080" stroke-width="0.15">1.3445</text>
<text transform="translate(1245.00 391.00) scale(0.900 1)" font-size="10" stroke="#000080" stroke-width="0.15">1.3425</text>
<text transform="translate(1245.00 432.00) scale(0.900 1)" font-size="10" stroke="#000080" stroke-width="0.15">1.3405</text>
<text transform="translate(1245.00 474.00) scale(0.900 1)" font-size="10" stroke="#000080" stroke-width="0.15">1.3385</text>
<text transform="translate(1245.00 515.00) scale(0.900 1)" font-size="10" stroke="#000080" stroke-width="0.15">1.3365</text>
<text transform="translate(1245.00 557.00) scale(0.900 1)" font-size="10" stroke="#000080" stroke-width="0.15">1.3345</text>
<text transform="translate(1245.00 598.00) scale(0.900 1)" font-size="10" stroke="#000080" stroke-width="0.15">1.3325</text>
<rect x="1241" y="187" width="36" height="7" fill="#ff0000"/>
<text transform="translate(1245.00 197.00) scale(0.880 1)" font-size="10" stroke="#fff" stroke-width="0.15" style="fill:#fff">1.3519</text>
<rect x="1241" y="193" width="36" height="11" fill="#000080"/>
<text transform="translate(1245.00 203.00) scale(0.880 1)" font-size="10" stroke="#fff" stroke-width="0.15" style="fill:#fff">1.3516</text>
<text transform="translate(1243.00 618.00) scale(0.850 1)" font-size="10" stroke="#000080" stroke-width="0.15">100</text>
<text transform="translate(1243.00 639.00) scale(0.850 1)" font-size="10" stroke="#000080" stroke-width="0.15">70</text>
<text transform="translate(1243.00 675.00) scale(0.850 1)" font-size="10" stroke="#000080" stroke-width="0.15">30</text>
<text transform="translate(1243.00 696.00) scale(0.850 1)" font-size="10" stroke="#000080" stroke-width="0.15">0</text>
<text transform="translate(2.20 712.20) scale(0.940 1)" font-size="10" stroke="#000080" stroke-width="0.15">7 Aug 2025</text>
<text transform="translate(66.20 712.20) scale(0.940 1)" font-size="10" stroke="#000080" stroke-width="0.15">8 Aug 08:00</text>
<text transform="translate(130.20 712.20) scale(0.940 1)" font-size="10" stroke="#000080" stroke-width="0.15">11 Aug 16:00</text>
<text transform="translate(194.20 712.20) scale(0.940 1)" font-size="10" stroke="#000080" stroke-width="0.15">13 Aug 00:00</text>
<text transform="translate(258.20 712.20) scale(0.940 1)" font-size="10" stroke="#000080" stroke-width="0.15">14 Aug 08:00</text>
<text transform="translate(322.20 712.20) scale(0.940 1)" font-size="10" stroke="#000080" stroke-width="0.15">15 Aug 16:00</text>
<text transform="translate(386.20 712.20) scale(0.940 1)" font-size="10" stroke="#000080" stroke-width="0.15">19 Aug 00:00</text>
<text transform="translate(450.20 712.20) scale(0.940 1)" font-size="10" stroke="#000080" stroke-width="0.15">20 Aug 08:00</text>
<text transform="translate(514.20 712.20) scale(0.940 1)" font-size="10" stroke="#000080" stroke-width="0.15">21 Aug 16:00</text>
<text transform="translate(578.20 712.20) scale(0.940 1)" font-size="10" stroke="#000080" stroke-width="0.15">25 Aug 00:00</text>
<text transform="translate(642.20 712.20) scale(0.940 1)" font-size="10" stroke="#000080" stroke-width="0.15">26 Aug 08:00</text>
<text transform="translate(706.20 712.20) scale(0.940 1)" font-size="10" stroke="#000080" stroke-width="0.15">27 Aug 16:00</text>
<text transform="translate(770.20 712.20) scale(0.940 1)" font-size="10" stroke="#000080" stroke-width="0.15">29 Aug 00:00</text>
<text transform="translate(834.20 712.20) scale(0.940 1)" font-size="10" stroke="#000080" stroke-width="0.15">1 Sep 08:00</text>
<text transform="translate(898.20 712.20) scale(0.940 1)" font-size="10" stroke="#000080" stroke-width="0.15">2 Sep 16:00</text>
<text transform="translate(962.20 712.20) scale(0.940 1)" font-size="10" stroke="#000080" stroke-width="0.15">4 Sep 00:00</text>
<text transform="translate(1026.20 712.20) scale(0.940 1)" font-size="10" stroke="#000080" stroke-width="0.15">5 Sep 08:00</text>
<text transform="translate(1090.20 712.20) scale(0.940 1)" font-size="10" stroke="#000080" stroke-width="0.15">8 Sep 16:00</text>
<text transform="translate(1154.20 712.20) scale(0.940 1)" font-size="10" stroke="#000080" stroke-width="0.15">10 Sep 00:00</text>
<text transform="translate(1218.20 712.20) scale(0.940 1)" font-size="10" stroke="#000080" stroke-width="0.15">11 Sep 08:00</text>
<path d="M6 9H13L9.5 13Z" fill="#000080"/>
<text transform="translate(18.00 14.00) scale(0.928 1)" font-size="10" stroke="#000080" stroke-width="0.15">GBPUSD,H4</text>
<text transform="translate(78.00 14.00) scale(0.927 1)" font-size="10" stroke="#000080" stroke-width="0.15">1.3525 1.3526 1.3511 1.3516</text>
<text transform="translate(7.50 620.40) scale(0.925 1)" font-size="10" stroke="#000080" stroke-width="0.15">RSI(14) 49.6493</text>
</svg></body></html>
